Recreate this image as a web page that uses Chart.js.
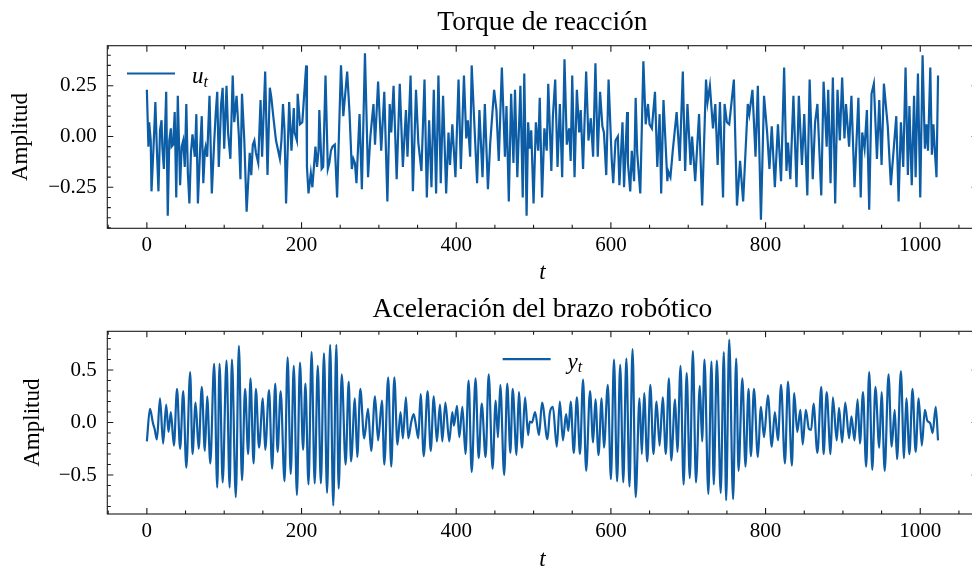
<!DOCTYPE html>
<html lang="es">
<head>
<meta charset="UTF-8">
<title>Torque y aceleración</title>
<script src="https://cdn.jsdelivr.net/npm/chart.js"></script>
<style>
  body { margin: 0; overflow: hidden; background: #fff; }
  .panel { position: absolute; left: 0; }
</style>
</head>
<body>
<div class="panel" style="top:0"><canvas id="torque" width="986" height="290"></canvas></div>
<div class="panel" style="top:290px"><canvas id="accel" width="986" height="290"></canvas></div>
<script>
// sample index / value pairs (turning points of each trace)
const uT = [0,2,3,5,6,9,11,13,15,17,19,20,22,25,27,29,31,32,34,36,38,40,43,45,47,49,51,53,55,57,59,62,64,66,69,71,73,75,76,78,81,83,84,87,89,91,93,94,96,98,100,103,105,108,111,113,116,119,121,123,126,129,133,135,137,139,141,144,147,149,153,156,159,161,164,167,172,174,176,178,180,184,187,190,191,194,195,198,201,206,207,209,212,214,216,218,220,222,223,226,228,231,234,236,238,240,243,246,251,254,259,262,265,267,269,271,275,278,282,286,289,293,295,299,303,307,311,314,316,319,323,327,331,335,337,341,344,348,351,355,359,362,365,368,371,374,377,380,383,387,390,392,395,399,403,406,410,413,415,418,420,423,427,430,434,437,441,444,449,452,455,459,463,465,468,471,474,476,479,483,486,488,491,493,495,497,500,503,506,508,511,514,517,519,523,525,528,531,534,537,540,543,546,548,550,553,556,559,561,564,568,571,574,577,580,583,586,589,591,594,597,601,603,606,609,611,615,617,621,622,625,627,630,632,634,638,642,645,648,650,653,657,660,663,665,668,673,674,677,680,685,689,693,696,699,703,705,709,714,718,723,725,728,732,735,738,741,745,747,750,753,759,763,767,771,777,779,783,787,790,794,798,802,805,808,812,816,820,824,827,829,832,836,840,843,847,850,854,857,861,864,867,872,875,879,881,884,887,890,893,896,899,902,904,908,911,915,920,923,925,928,931,934,937,940,944,947,950,953,958,962,969,972,975,978,981,984,986,989,992,994,997,1000,1003,1006,1008,1010,1013,1015,1017,1019,1021,1023];
const uV = [0.23,-0.05,0.07,-0.02,-0.27,-0.02,0.17,-0.07,-0.27,0.03,0.08,-0.05,-0.16,0.22,-0.39,-0.02,0.04,-0.05,-0.04,0.12,-0.30,0.20,-0.24,-0.05,-0.02,-0.15,0.16,-0.18,-0.33,-0.08,0.01,-0.10,0.11,-0.33,-0.05,0.10,-0.23,-0.07,-0.05,-0.10,0.20,-0.13,-0.28,-0.03,0.11,0.22,-0.15,-0.05,0.16,0.24,-0.06,0.25,0.02,-0.11,0.30,0.07,0.20,0.00,-0.21,0.21,-0.02,-0.37,-0.08,-0.19,-0.04,-0.02,-0.08,-0.13,0.18,-0.10,0.32,-0.19,0.24,0.19,0.08,-0.02,-0.11,-0.02,0.16,0.03,-0.33,0.17,-0.07,0.14,0.02,-0.02,0.21,0.06,0.07,0.35,-0.15,-0.28,-0.18,-0.25,-0.15,-0.05,-0.15,-0.07,0.13,-0.16,-0.15,0.30,-0.16,-0.13,-0.07,-0.05,-0.04,-0.30,0.35,0.10,0.32,0.12,-0.16,-0.11,-0.13,-0.23,0.11,-0.26,0.41,-0.20,0.00,0.16,-0.04,0.27,-0.07,0.22,-0.32,0.16,0.02,0.25,-0.21,0.26,-0.15,0.13,-0.10,0.30,-0.27,0.23,-0.03,-0.17,0.28,-0.30,0.08,-0.25,0.23,-0.28,0.30,-0.23,0.20,-0.28,0.02,-0.14,0.06,-0.20,0.28,-0.16,0.30,-0.01,0.08,-0.10,0.35,0.10,-0.23,0.13,-0.20,0.16,-0.26,-0.03,0.23,0.13,-0.12,0.34,-0.10,0.15,-0.32,0.21,-0.13,0.23,-0.20,0.25,-0.30,0.31,-0.39,0.07,-0.06,0.03,-0.33,0.07,-0.07,0.19,-0.30,0.04,-0.07,0.26,-0.17,0.10,0.28,-0.15,0.16,-0.20,0.38,-0.04,0.04,-0.12,0.30,-0.20,0.23,0.02,0.13,-0.16,0.32,-0.02,0.09,-0.10,0.36,-0.10,0.22,0.05,0.02,-0.19,0.28,-0.11,-0.23,-0.02,0.00,-0.24,0.07,-0.25,0.12,-0.13,-0.27,-0.07,-0.22,0.19,-0.08,-0.28,0.37,0.06,0.16,0.06,0.04,0.22,-0.15,0.11,-0.28,0.18,-0.22,-0.17,-0.20,-0.07,0.12,-0.12,0.32,-0.17,0.16,-0.14,0.00,-0.22,0.11,-0.34,0.28,0.17,0.25,0.04,0.16,-0.14,0.17,-0.30,0.16,0.07,0.06,0.28,-0.34,-0.12,-0.32,0.16,0.11,0.23,-0.10,0.25,-0.41,0.20,0.02,-0.16,0.05,-0.25,0.06,-0.22,0.34,-0.17,-0.03,-0.21,0.20,-0.25,0.20,-0.14,0.11,-0.29,0.28,-0.21,0.07,0.16,-0.29,0.27,-0.05,0.23,-0.23,0.29,-0.33,0.23,-0.02,0.29,-0.01,0.16,-0.05,0.20,-0.25,0.19,-0.30,0.02,-0.06,0.13,-0.36,0.21,0.26,-0.11,0.18,-0.14,0.26,0.05,-0.24,0.10,-0.32,0.07,-0.15,0.34,-0.19,0.15,-0.24,0.20,-0.20,0.31,-0.30,0.40,-0.06,0.06,-0.07,0.34,-0.09,0.06,-0.08,-0.20,0.30];

const yT = [0,4,8,10,13,17,21,25,28,31,35,39,43,47,51,56,59,63,67,71,75,78,82,87,91,94,98,103,107,110,115,119,123,127,131,134,138,141,145,150,153,158,162,166,169,173,178,182,186,190,194,198,202,205,209,213,217,221,225,229,233,237,241,245,248,252,257,261,264,269,272,276,281,286,290,295,299,304,307,312,316,320,324,328,331,335,338,342,345,348,351,354,358,363,367,371,375,379,382,386,391,395,397,401,404,408,412,416,420,425,429,433,438,442,447,451,454,457,462,466,470,473,478,481,485,489,493,495,498,502,507,511,518,521,525,530,534,538,542,545,548,552,556,560,564,568,573,577,580,584,588,591,596,600,604,608,612,616,620,624,628,632,637,640,643,647,651,655,659,663,667,671,675,678,683,686,690,694,698,702,706,710,715,718,721,726,730,733,737,742,746,749,753,758,762,765,770,774,778,781,785,790,794,798,803,808,812,816,820,825,829,834,837,841,845,848,852,856,859,862,867,872,875,879,884,887,892,895,899,903,908,911,915,919,922,926,930,934,938,942,947,950,954,959,963,967,970,975,979,982,986,990,994,998,1002,1006,1009,1013,1016,1020,1023];
const yV = [-0.18,0.13,-0.01,-0.06,-0.16,0.23,-0.20,0.17,-0.09,0.10,-0.22,0.32,-0.25,0.30,-0.43,0.48,-0.30,0.19,-0.25,0.34,-0.27,0.25,-0.39,0.56,-0.62,0.56,-0.57,0.59,-0.62,0.60,-0.71,0.73,-0.55,0.32,-0.30,0.42,-0.39,0.32,-0.24,0.23,-0.26,0.31,-0.44,0.37,-0.28,0.30,-0.56,0.62,-0.49,0.54,-0.69,0.57,-0.26,0.37,-0.59,0.67,-0.58,0.54,-0.58,0.66,-0.67,0.74,-0.79,0.74,-0.63,0.46,-0.40,0.39,-0.37,0.23,-0.33,0.32,-0.15,0.13,-0.27,0.25,-0.17,0.21,-0.40,0.43,-0.42,0.43,-0.21,0.10,-0.15,0.24,-0.15,0.01,0.08,-0.03,-0.15,0.27,-0.32,0.30,-0.27,0.25,-0.18,0.17,-0.18,0.19,-0.18,0.10,-0.03,0.16,-0.14,0.15,-0.30,0.40,-0.47,0.42,-0.34,0.18,-0.33,0.46,-0.44,0.21,-0.14,0.36,-0.50,0.37,-0.29,0.32,-0.31,0.29,-0.24,0.24,-0.12,0.01,0.00,0.10,-0.12,0.19,-0.16,0.09,0.15,-0.23,0.20,-0.17,0.08,-0.08,0.20,-0.29,0.24,-0.30,0.41,-0.46,0.30,-0.19,0.22,-0.31,0.23,-0.24,0.36,-0.54,0.60,-0.56,0.55,-0.57,0.61,-0.61,0.70,-0.71,0.23,-0.30,0.28,-0.37,0.36,-0.30,0.20,-0.22,0.24,-0.30,0.42,-0.36,0.22,-0.28,0.54,-0.59,0.47,-0.53,0.68,-0.57,0.35,-0.18,0.60,-0.68,0.58,-0.59,0.59,-0.67,0.67,-0.74,0.79,-0.73,0.61,-0.46,0.42,-0.42,0.32,-0.32,0.32,-0.33,0.15,-0.14,0.26,-0.23,0.10,-0.17,0.36,-0.39,0.39,-0.41,0.28,-0.09,0.12,-0.21,0.12,-0.06,-0.07,0.18,-0.29,0.34,-0.30,0.29,-0.30,0.24,-0.17,0.14,-0.19,0.19,-0.15,0.06,-0.17,0.22,-0.20,0.29,-0.42,0.48,-0.45,0.34,-0.24,0.29,-0.46,0.46,-0.23,0.12,-0.35,0.49,-0.34,0.23,-0.30,0.32,-0.28,0.23,-0.22,0.12,0.02,-0.01,-0.10,0.15,-0.17];

const xTicks = [0, 200, 400, 600, 800, 1000];
const uTicks = [-0.25, 0, 0.25];
const yTicks = [-0.5, 0, 0.5];

const blue = '#0C5DA5';
const serif = '"Liberation Serif", "Times New Roman", serif';
Chart.defaults.font.family = serif;
Chart.defaults.color = '#000';

function minus(s) { return s.replace('-', '\u2212'); }

// spines on all four sides, inward ticks, and a small legend
const frame = {
  id: 'frame',
  afterDraw(chart, args, o) {
    const ctx = chart.ctx, a = chart.chartArea;
    const sx = chart.scales.x, sy = chart.scales.y;
    ctx.save();
    ctx.strokeStyle = '#1a1a1a';
    ctx.lineWidth = 1.1;
    ctx.strokeRect(a.left, a.top, a.right - a.left, a.bottom - a.top);
    ctx.beginPath();
    for (let i = Math.ceil(sx.min / o.xMinor); i * o.xMinor <= sx.max; i++) {
      const p = sx.getPixelForValue(i * o.xMinor);
      const len = i % o.xEvery === 0 ? 6 : 3.5;
      ctx.moveTo(p, a.bottom); ctx.lineTo(p, a.bottom - len);
      ctx.moveTo(p, a.top); ctx.lineTo(p, a.top + len);
    }
    for (let i = Math.ceil(sy.min / o.yMinor); i * o.yMinor <= sy.max; i++) {
      const p = sy.getPixelForValue(i * o.yMinor);
      const len = i % o.yEvery === 0 ? 6 : 3.5;
      ctx.moveTo(a.left, p); ctx.lineTo(a.left + len, p);
      ctx.moveTo(a.right, p); ctx.lineTo(a.right - len, p);
    }
    ctx.stroke();

    const lg = o.legend;
    ctx.font = 'italic 23px ' + serif;
    const w1 = ctx.measureText(lg.main).width;
    ctx.font = 'italic 16px ' + serif;
    const w2 = ctx.measureText(lg.sub).width;
    const total = 48 + 17 + w1 + w2;
    const x0 = lg.align === 'center' ? (a.left + a.right) / 2 - total / 2 : a.left + 19.7;
    const yl = a.top + 27.8;
    ctx.strokeStyle = blue;
    ctx.lineWidth = 2.2;
    ctx.beginPath();
    ctx.moveTo(x0, yl); ctx.lineTo(x0 + 48, yl);
    ctx.stroke();
    ctx.fillStyle = '#000';
    ctx.textBaseline = 'alphabetic';
    ctx.font = 'italic 23px ' + serif;
    ctx.fillText(lg.main, x0 + 65, yl + 9.5);
    ctx.font = 'italic 16px ' + serif;
    ctx.fillText(lg.sub, x0 + 65 + w1, yl + 13);
    ctx.restore();
  }
};

function makeChart(id, cfg) {
  const pts = cfg.t.map((t, i) => ({ x: t, y: cfg.v[i] }));
  return new Chart(document.getElementById(id), {
    type: 'line',
    data: {
      datasets: [{
        data: pts,
        borderColor: blue,
        borderWidth: 2.2,
        pointRadius: 0,
        tension: 0,
        cubicInterpolationMode: cfg.smooth ? 'monotone' : 'default'
      }]
    },
    plugins: [frame],
    options: {
      responsive: false,
      animation: false,
      devicePixelRatio: 1,
      layout: { padding: { left: 0, right: 8.4, top: 0, bottom: 0 } },
      plugins: {
        legend: { display: false },
        tooltip: { enabled: false },
        title: {
          display: true,
          text: cfg.title,
          fullSize: false,
          color: '#000',
          font: { size: 27.5, weight: 'normal' },
          padding: cfg.titlePad
        },
        frame: {
          xMinor: 50, xEvery: 4,
          yMinor: cfg.yMinor, yEvery: 5,
          legend: cfg.legend
        }
      },
      scales: {
        x: {
          type: 'linear',
          min: -51.15,
          max: 1074.15,
          grid: { display: false, drawTicks: false },
          border: { display: false },
          ticks: { padding: 4.4, font: { size: 21 }, maxRotation: 0, callback: v => String(v) },
          afterBuildTicks: s => { s.ticks = xTicks.map(v => ({ value: v })); },
          afterFit: s => { s.height = cfg.xHeight; },
          title: {
            display: true,
            text: 't',
            font: { size: 23, style: 'italic' },
            padding: { top: 0, bottom: cfg.tPad }
          }
        },
        y: {
          min: cfg.yMin,
          max: cfg.yMax,
          grid: { display: false, drawTicks: false },
          border: { display: false },
          ticks: {
            padding: 10.5,
            font: { size: 21 },
            callback: v => minus(v.toFixed(cfg.digits))
          },
          afterBuildTicks: s => { s.ticks = cfg.ticks.map(v => ({ value: v })); },
          afterFit: s => { s.width = 107.3; },
          title: {
            display: true,
            text: 'Amplitud',
            font: { size: 23 },
            padding: { top: cfg.ampPad, bottom: 0 }
          }
        }
      }
    }
  });
}

makeChart('torque', {
  t: uT, v: uV,
  title: 'Torque de reacción',
  titlePad: { top: 6, bottom: 6.7 },
  yMin: -0.452, yMax: 0.447, yMinor: 0.05,
  ticks: uTicks, digits: 2,
  xHeight: 61.7, tPad: 3.2, ampPad: 7,
  legend: { main: 'u', sub: 't', align: 'left' }
});

makeChart('accel', {
  t: yT, v: yV, smooth: true,
  title: 'Aceleración del brazo robótico',
  titlePad: { top: 3, bottom: 5.3 },
  yMin: -0.871, yMax: 0.869, yMinor: 0.1,
  ticks: yTicks, digits: 1,
  xHeight: 66, tPad: 6.2, ampPad: 19,
  legend: { main: 'y', sub: 't', align: 'center' }
});
</script>
</body>
</html>
